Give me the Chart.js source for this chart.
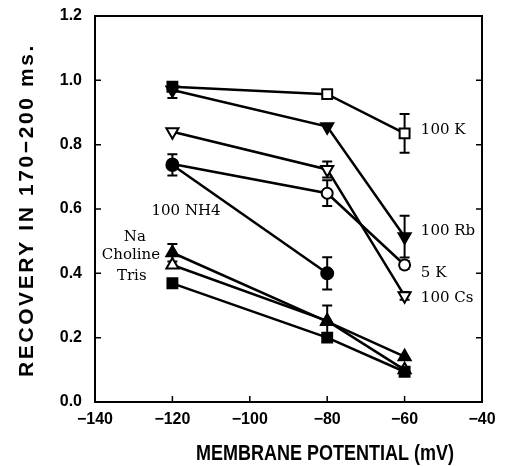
<!DOCTYPE html>
<html>
<head>
<meta charset="utf-8">
<script src="https://cdn.jsdelivr.net/npm/chart.js@4.4.0/dist/chart.umd.min.js"></script>
<style>
  html, body { margin: 0; padding: 0; background: #fff; }
</style>
</head>
<body>
<canvas id="myChart" width="508" height="466"></canvas>
<script>
// membrane potentials (mV) where recovery was measured
const voltages = [-120, -80, -60];

// recovery values, one array per solution
const k100 = [0.98, 0.957, 0.835];
const k100Err = [0, 0, 0.06];
const rb100 = [0.97, 0.856, 0.514];
const rb100Err = [0.025, 0, 0.065];
const cs100 = [0.84, 0.723, 0.33];
const cs100Err = [0, 0.025, 0.012];
const k5 = [0.74, 0.649, 0.426];
const k5Err = [0, 0.04, 0.012];
const nh4 = [0.737, 0.40, null];
const nh4Err = [0.033, 0.05, 0];
const na = [0.464, 0.25, 0.141];
const naErr = [0.027, 0.05, 0];
const choline = [0.426, 0.252, 0.10];
const tris = [0.369, 0.20, 0.094];

// axis ticks
const xTicks = [-140, -120, -100, -80, -60, -40];
const yTicks = [0.0, 0.2, 0.4, 0.6, 0.8, 1.0, 1.2];
const xTitle = 'MEMBRANE POTENTIAL (mV)';
const yTitle = 'RECOVERY IN 170\u2212200 ms.';

// text labels next to the curves
const labelTexts = ['100 K', '100 Rb', '5 K', '100 Cs', '100 NH4', 'Na', 'Choline', 'Tris'];
const labelAt = [[-55.8, 0.846], [-55.8, 0.532], [-55.8, 0.402], [-55.8, 0.322],
                 [-125.4, 0.594], [-129.7, 0.514], [-130.7, 0.457], [-130.5, 0.392]];
const labelAlign = ['left', 'left', 'left', 'left', 'left', 'center', 'center', 'center'];

function series(vals, errs, shape, fill, radius, rotation) {
  let pts = [];
  let e = [];
  for (let i = 0; i < voltages.length; i++) {
    if (vals[i] === null) continue;
    pts.push({x: voltages[i], y: vals[i]});
    e.push(errs ? errs[i] : 0);
  }
  return {
    data: pts,
    errors: e,
    showLine: true,
    borderColor: '#000',
    borderWidth: 2.5,
    pointStyle: shape,
    pointRadius: radius,
    pointRotation: rotation || 0,
    pointBackgroundColor: fill,
    pointBorderColor: '#000',
    pointBorderWidth: 2
  };
}

// first dataset ends up on top
let datasets = [
  series(k100, k100Err, 'rect', ['#000', '#fff', '#fff'], 7),
  series(rb100, rb100Err, 'triangle', '#000', 7, 180),
  series(cs100, cs100Err, 'triangle', '#fff', 7, 180),
  series(nh4, nh4Err, 'circle', '#000', 6),
  series(k5, k5Err, 'circle', '#fff', 5.5),
  series(tris, null, 'rect', '#000', 7),
  series(na, naErr, 'triangle', '#000', 7),
  series(choline, null, 'triangle', '#fff', 7)
];

const extras = {
  id: 'extras',
  beforeDatasetsDraw(chart) {
    const ctx = chart.ctx;
    const xs = chart.scales.x, ys = chart.scales.y;
    const a = chart.chartArea;
    ctx.save();
    ctx.strokeStyle = '#000';
    // frame
    ctx.lineWidth = 2;
    ctx.strokeRect(a.left, a.top, a.right - a.left, a.bottom - a.top);
    // inward tick marks
    ctx.lineWidth = 1.5;
    ctx.beginPath();
    xTicks.slice(1, -1).forEach(v => {
      let px = xs.getPixelForValue(v);
      ctx.moveTo(px, a.bottom); ctx.lineTo(px, a.bottom - 6);
    });
    yTicks.slice(1, -1).forEach(v => {
      let py = ys.getPixelForValue(v);
      ctx.moveTo(a.left, py); ctx.lineTo(a.left + 6, py);
      ctx.moveTo(a.right, py); ctx.lineTo(a.right - 6, py);
    });
    ctx.stroke();
    // error bars
    ctx.lineWidth = 2;
    chart.data.datasets.forEach(ds => {
      ds.data.forEach((p, i) => {
        let e = ds.errors[i];
        if (!e) return;
        let px = xs.getPixelForValue(p.x);
        let y1 = ys.getPixelForValue(p.y - e);
        let y2 = ys.getPixelForValue(p.y + e);
        ctx.beginPath();
        ctx.moveTo(px, y1); ctx.lineTo(px, y2);
        ctx.moveTo(px - 5, y1); ctx.lineTo(px + 5, y1);
        ctx.moveTo(px - 5, y2); ctx.lineTo(px + 5, y2);
        ctx.stroke();
      });
    });
    ctx.restore();
  },
  afterDraw(chart) {
    const ctx = chart.ctx;
    const xs = chart.scales.x, ys = chart.scales.y;
    ctx.save();
    ctx.fillStyle = '#000';
    ctx.font = '15px "DejaVu Serif", serif';
    ctx.textBaseline = 'middle';
    labelTexts.forEach((t, i) => {
      ctx.textAlign = labelAlign[i];
      ctx.fillText(t, xs.getPixelForValue(labelAt[i][0]), ys.getPixelForValue(labelAt[i][1]));
    });
    // axis titles, drawn here so the letter spacing can be set
    ctx.textAlign = 'center';
    ctx.font = 'bold 18px "Liberation Sans", Arial, sans-serif';
    ctx.letterSpacing = '0px';
    ctx.save();
    ctx.translate(325, 454);
    ctx.scale(1, 1.25);
    ctx.fillText(xTitle, 0, 0);
    ctx.restore();
    ctx.font = 'bold 21px "Liberation Sans", Arial, sans-serif';
    ctx.letterSpacing = '2.6px';
    ctx.translate(27, 210);
    ctx.rotate(-Math.PI / 2);
    ctx.fillText(yTitle, 0, 0);
    ctx.restore();
  }
};

let ctx = document.getElementById('myChart').getContext('2d');
let myChart = new Chart(ctx, {
  type: 'scatter',
  data: { datasets: datasets },
  plugins: [extras],
  options: {
    responsive: false,
    animation: false,
    layout: { padding: { top: 16, right: 26, left: 0, bottom: 0 } },
    plugins: { legend: { display: false }, tooltip: { enabled: false } },
    scales: {
      x: {
        type: 'linear',
        min: -140, max: -40,
        afterFit: s => { s.height = 64; s.paddingLeft = 0; s.paddingRight = 0; },
        afterBuildTicks: s => { s.ticks = xTicks.map(v => ({value: v})); },
        grid: { display: false, drawTicks: false },
        border: { display: false },
        ticks: {
          padding: 8,
          color: '#000',
          font: { family: '"Liberation Sans", Arial, sans-serif', size: 16, weight: 'bold' },
          callback: v => String(v).replace('-', '\u2212')
        }
      },
      y: {
        min: 0, max: 1.2,
        afterFit: s => { s.width = 95; s.paddingTop = 0; s.paddingBottom = 0; },
        afterBuildTicks: s => { s.ticks = yTicks.map(v => ({value: v})); },
        grid: { display: false, drawTicks: false },
        border: { display: false },
        ticks: {
          padding: 13,
          color: '#000',
          font: { family: '"Liberation Sans", Arial, sans-serif', size: 16, weight: 'bold' },
          callback: v => v.toFixed(1)
        }
      }
    }
  }
});
</script>
</body>
</html>
